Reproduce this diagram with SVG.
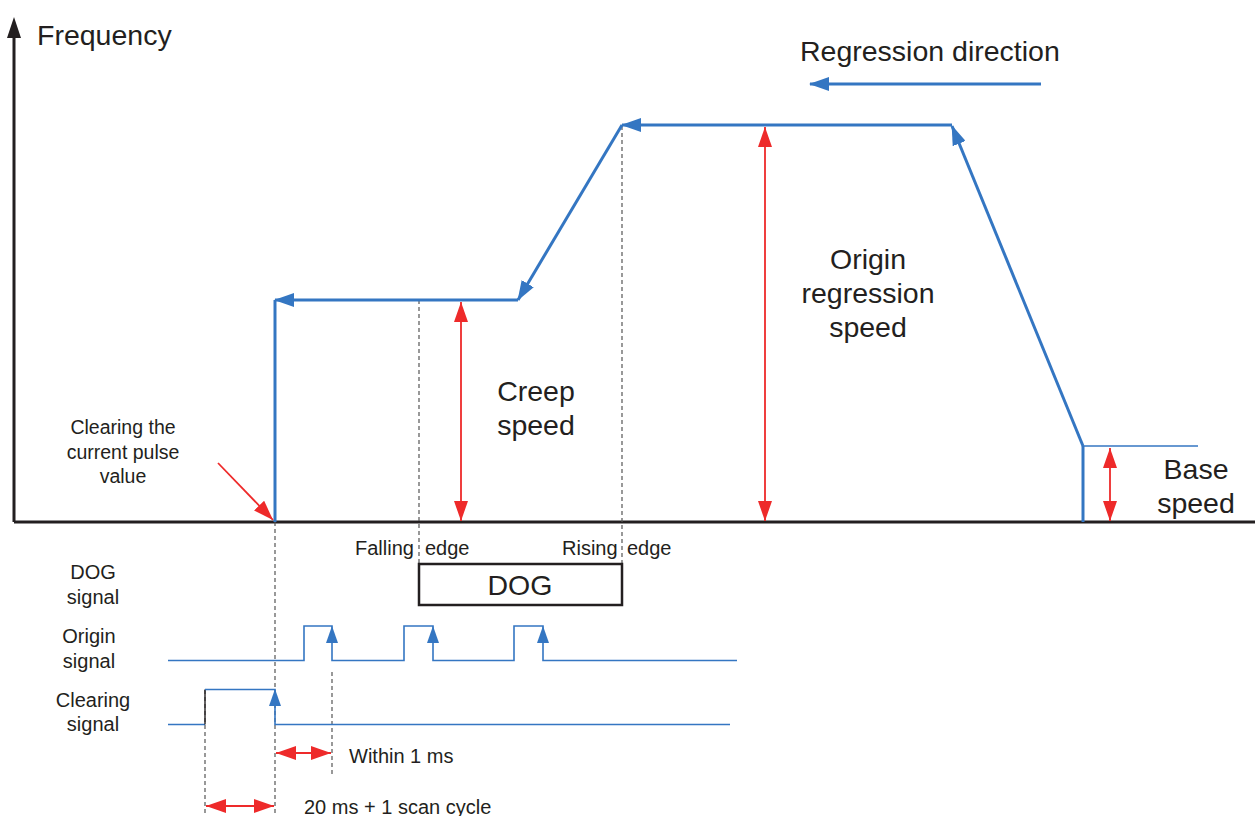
<svg xmlns="http://www.w3.org/2000/svg" width="1255" height="816" viewBox="0 0 1255 816">
  <style>
    text { font-family: "Liberation Sans", Arial, sans-serif; fill: #231f20; }
    .big { font-size: 28.5px; }
    .mid { font-size: 20px; }
    .sm { font-size: 19.5px; }
    .axis { stroke: #231f20; stroke-width: 3; fill: none; }
    .curve { stroke: #3476c2; stroke-width: 3; fill: none; }
    .sig { stroke: #3476c2; stroke-width: 1.6; fill: none; }
    .red { stroke: #ee2a2a; stroke-width: 1.8; fill: none; }
    .dash { stroke: #555; stroke-width: 1.2; stroke-dasharray: 4 3; fill: none; }
    .bluehead { fill: #3476c2; }
  </style>
  <defs>
    <marker id="blueArrow" viewBox="0 0 20 14" refX="19" refY="7" markerWidth="20" markerHeight="14" markerUnits="userSpaceOnUse" orient="auto">
      <path d="M0,0 L20,7 L0,14 z" fill="#3476c2"/>
    </marker>
    <marker id="redEnd" viewBox="0 0 20 14" refX="20" refY="7" markerWidth="20" markerHeight="14" markerUnits="userSpaceOnUse" orient="auto">
      <path d="M0,0 L20,7 L0,14 z" fill="#ee2a2a"/>
    </marker>
    <marker id="redStart" viewBox="0 0 20 14" refX="0" refY="7" markerWidth="20" markerHeight="14" markerUnits="userSpaceOnUse" orient="auto">
      <path d="M20,0 L0,7 L20,14 z" fill="#ee2a2a"/>
    </marker>
  </defs>

  <!-- axes -->
  <g id="axes">
    <line class="axis" x1="14" y1="522" x2="1255" y2="522"/>
    <line class="axis" x1="14" y1="522" x2="14" y2="34"/>
    <path d="M14,17 L21,38 L7,38 z" fill="#231f20"/>
    <text class="big" x="37" y="45">Frequency</text>
  </g>

  <!-- dashed guides -->
  <g id="guides">
    <line class="dash" x1="419" y1="300" x2="419" y2="566"/>
    <line class="dash" x1="622" y1="126" x2="622" y2="566"/>
    <line class="dash" x1="275" y1="522" x2="275" y2="816"/>
    <line class="dash" x1="332" y1="672" x2="332" y2="776"/>
    <line class="dash" x1="205" y1="690" x2="205" y2="816"/>
  </g>

  <!-- speed profile -->
  <g id="connectors">
    <line class="curve" x1="1083" y1="522" x2="1083" y2="446"/>
    <line class="curve" x1="1083" y1="446" x2="952" y2="126" marker-end="url(#blueArrow)"/>
    <line class="curve" x1="952" y1="125" x2="622" y2="125" marker-end="url(#blueArrow)"/>
    <line class="curve" x1="622" y1="125" x2="518" y2="300" marker-end="url(#blueArrow)"/>
    <line class="curve" x1="518" y1="300" x2="275" y2="300" marker-end="url(#blueArrow)"/>
    <line class="curve" x1="275" y1="300" x2="275" y2="522"/>
    <line class="sig" x1="1083" y1="446" x2="1198" y2="446"/>
    <line class="curve" x1="1041" y1="84" x2="810" y2="84" marker-end="url(#blueArrow)"/>

    <!-- speed magnitudes -->
    <line class="red" x1="461" y1="302" x2="461" y2="521" marker-start="url(#redStart)" marker-end="url(#redEnd)"/>
    <line class="red" x1="765" y1="127" x2="765" y2="521" marker-start="url(#redStart)" marker-end="url(#redEnd)"/>
    <line class="red" x1="1110" y1="448" x2="1110" y2="521" marker-start="url(#redStart)" marker-end="url(#redEnd)"/>
    <line class="red" x1="218" y1="463" x2="273" y2="520" marker-end="url(#redEnd)"/>

    <!-- timing spans -->
    <line class="red" x1="276" y1="753" x2="331" y2="753" marker-start="url(#redStart)" marker-end="url(#redEnd)"/>
    <line class="red" x1="206" y1="806" x2="274" y2="806" marker-start="url(#redStart)" marker-end="url(#redEnd)"/>
  </g>

  <!-- labels -->
  <g id="label-regression">
    <text class="big" x="800" y="61">Regression direction</text>
  </g>
  <g id="label-origin-speed">
    <text class="big" text-anchor="middle" x="868" y="269">Origin</text>
    <text class="big" text-anchor="middle" x="868" y="303">regression</text>
    <text class="big" text-anchor="middle" x="868" y="337">speed</text>
  </g>
  <g id="label-creep">
    <text class="big" text-anchor="middle" x="536" y="401">Creep</text>
    <text class="big" text-anchor="middle" x="536" y="435">speed</text>
  </g>
  <g id="label-base">
    <text class="big" text-anchor="middle" x="1196" y="479">Base</text>
    <text class="big" text-anchor="middle" x="1196" y="513">speed</text>
  </g>
  <g id="label-clearing">
    <text class="sm" text-anchor="middle" x="123" y="434">Clearing the</text>
    <text class="sm" text-anchor="middle" x="123" y="459">current pulse</text>
    <text class="sm" text-anchor="middle" x="123" y="483">value</text>
  </g>
  <g id="label-edges">
    <text class="mid" x="355" y="555">Falling</text>
    <text class="mid" x="425" y="555">edge</text>
    <text class="mid" x="562" y="555">Rising</text>
    <text class="mid" x="627" y="555">edge</text>
  </g>

  <!-- DOG signal -->
  <g id="dog">
    <rect x="419" y="564" width="203" height="41" fill="#fff" stroke="#231f20" stroke-width="2.5"/>
    <text class="big" text-anchor="middle" x="520" y="595">DOG</text>
    <text class="mid" text-anchor="middle" x="93" y="579">DOG</text>
    <text class="mid" text-anchor="middle" x="93" y="604">signal</text>
  </g>

  <!-- origin signal -->
  <g id="origin-signal">
    <text class="mid" text-anchor="middle" x="89" y="643">Origin</text>
    <text class="mid" text-anchor="middle" x="89" y="668">signal</text>
    <polyline class="sig" points="168,660.5 304,660.5 304,626 332,626 332,660.5 404,660.5 404,626 433,626 433,660.5 514,660.5 514,626 543,626 543,660.5 737,660.5"/>
    <path class="bluehead" d="M332,626 L338,643 L326,643 z"/>
    <path class="bluehead" d="M433,626 L439,643 L427,643 z"/>
    <path class="bluehead" d="M543,626 L549,643 L537,643 z"/>
  </g>

  <!-- clearing signal -->
  <g id="clearing-signal">
    <text class="mid" text-anchor="middle" x="93" y="707">Clearing</text>
    <text class="mid" text-anchor="middle" x="93" y="731">signal</text>
    <polyline class="sig" points="168,724.5 205,724.5"/>
    <line x1="205" y1="724.5" x2="205" y2="689.5" stroke="#231f20" stroke-width="1.4"/>
    <polyline class="sig" points="205,689.5 275,689.5 275,724.5 730,724.5"/>
    <path class="bluehead" d="M275,689 L281,706 L269,706 z"/>
  </g>

  <!-- timing notes -->
  <g id="timing-labels">
    <text class="mid" x="349" y="763">Within 1 ms</text>
    <text class="mid" x="304" y="814">20 ms + 1 scan cycle</text>
  </g>
</svg>
